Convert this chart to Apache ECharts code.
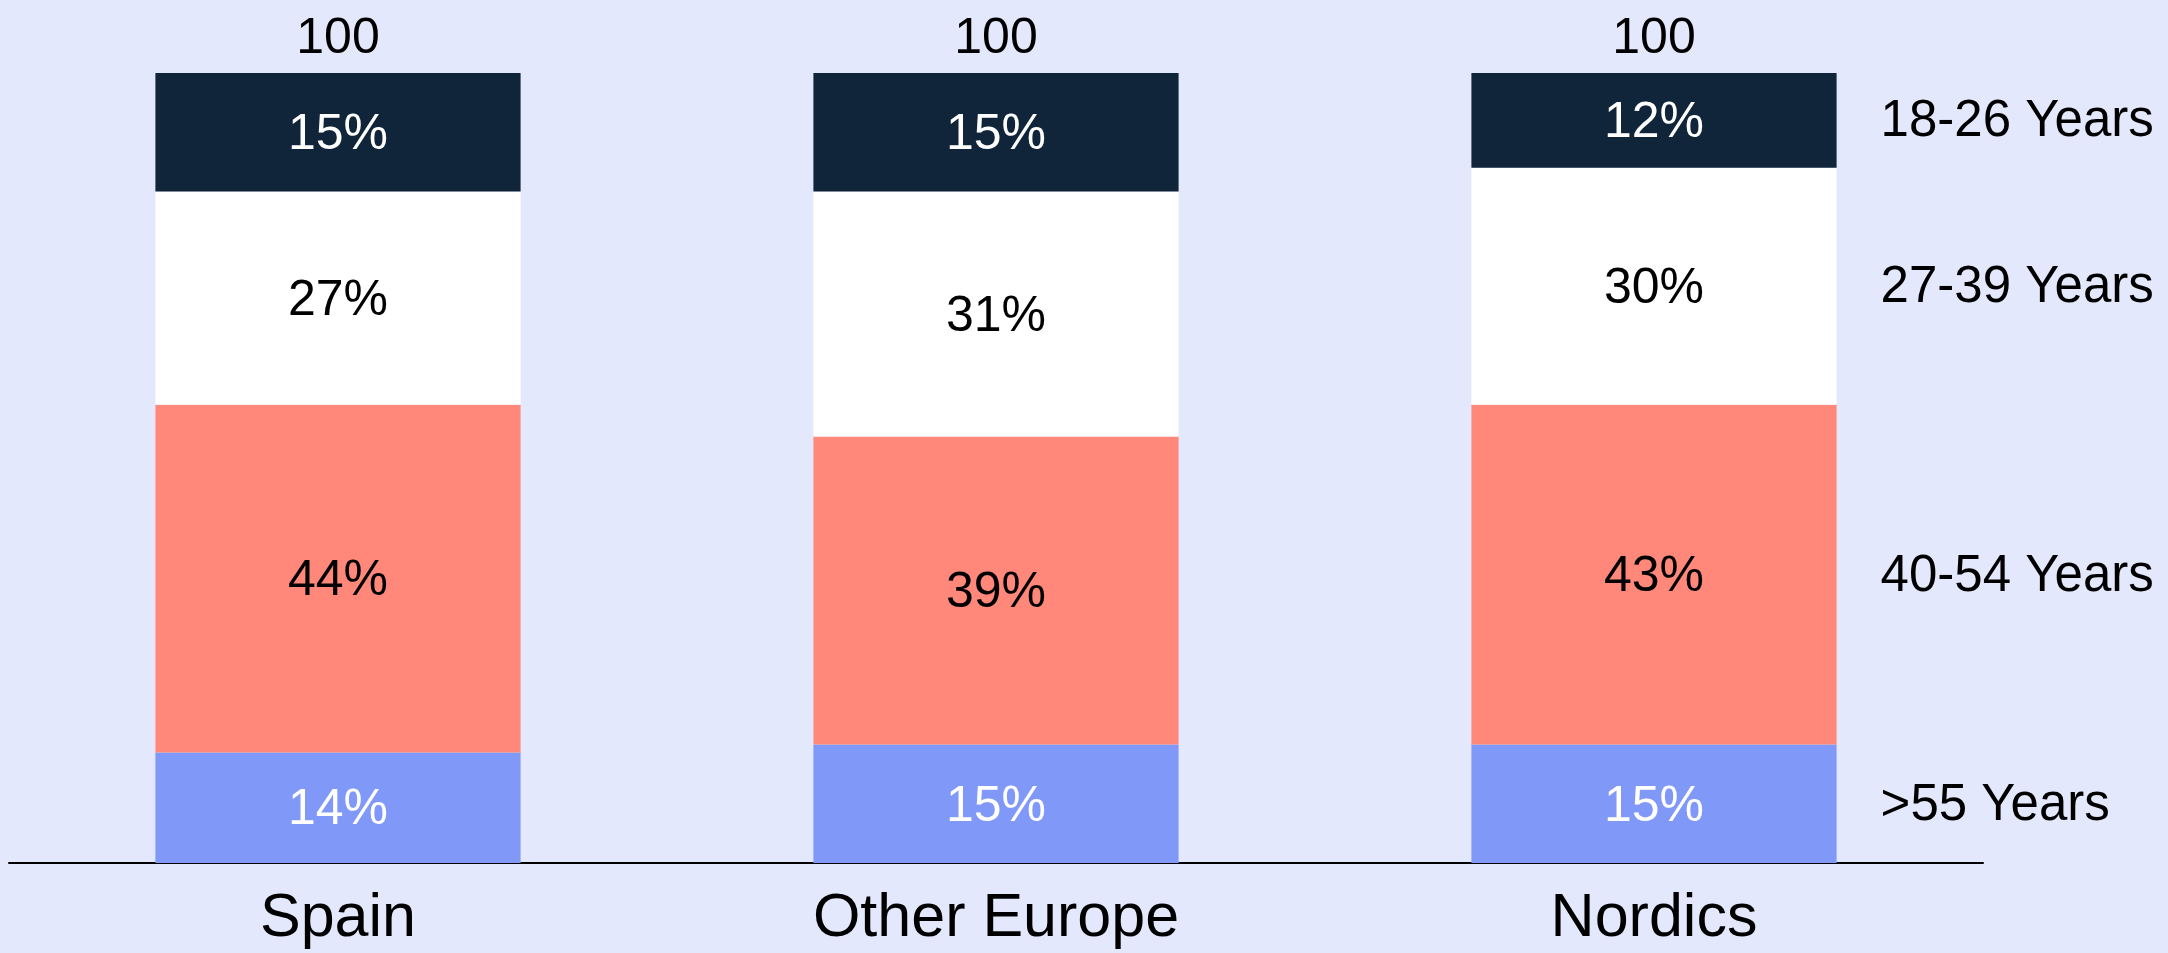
<!DOCTYPE html>
<html>
<head>
<meta charset="utf-8">
<style>
  html, body { margin: 0; padding: 0; background: #E3E8FC; }
  #chart { width: 2168px; height: 953px; }
</style>
<script src="https://cdn.jsdelivr.net/npm/echarts@6/dist/echarts.min.js"></script>
</head>
<body>
<div id="chart"></div>
<script>
// Regions on the category axis
const regions = ['Spain', 'Other Europe', 'Nordics'];

// Share of each age group per region (%), bottom segment first
const groupNames = ['>55 Years', '40-54 Years', '27-39 Years', '18-26 Years'];
const over55 = [14, 15, 15];
const age40to54 = [44, 39, 43];
const age27to39 = [27, 31, 30];
const age18to26 = [15, 15, 12];

const groupValues = [over55, age40to54, age27to39, age18to26];
const totals = regions.map((_, i) => groupValues.reduce((s, arr) => s + arr[i], 0));

const FONT = "'Liberation Sans', Arial, sans-serif";
const fills = ['#8098F7', '#FF887A', '#FFFFFF', '#10243A'];
const textColors = ['#FFFFFF', '#000000', '#000000', '#FFFFFF'];
const BAR_WIDTH = '55.5%';

const series = [];

// Stacked segments with their percentage inside
groupValues.forEach((vals, k) => {
  series.push({
    name: groupNames[k],
    type: 'bar',
    stack: 'share',
    barWidth: BAR_WIDTH,
    data: vals,
    itemStyle: { color: fills[k] },
    label: {
      show: true,
      position: 'inside',
      offset: [0, 3],
      formatter: p => p.value + '%',
      color: textColors[k],
      fontFamily: FONT,
      fontSize: 50
    },
    silent: true
  });
});

// Total above each column
series.push({
  name: 'total',
  type: 'bar',
  stack: 'share',
  barWidth: BAR_WIDTH,
  data: totals.map(() => 0),
  itemStyle: { color: 'transparent' },
  label: {
    show: true,
    position: 'top',
    distance: 9,
    formatter: p => String(totals[p.dataIndex]),
    color: '#000000',
    fontFamily: FONT,
    fontSize: 50
  },
  silent: true
});

// Age-group names beside the last column, on a twin axis so the layout is unaffected
const last = regions.length - 1;
groupValues.forEach((vals, k) => {
  series.push({
    name: groupNames[k] + ' name',
    type: 'bar',
    xAxisIndex: 1,
    stack: 'names',
    barWidth: BAR_WIDTH,
    data: vals.map((v, i) => i === last ? {
      value: v,
      label: {
        show: true,
        position: 'right',
        distance: 44,
        offset: [0, 2],
        formatter: groupNames[k],
        color: '#000000',
        fontFamily: FONT,
        fontSize: 51
      }
    } : v),
    itemStyle: { color: 'transparent' },
    label: { show: false },
    silent: true
  });
});

const chart = echarts.init(document.getElementById('chart'), null, { renderer: 'canvas' });
chart.setOption({
  backgroundColor: '#E3E8FC',
  animation: false,
  grid: { left: 9, right: 185, top: 73, bottom: 90, containLabel: false },
  xAxis: [{
    type: 'category',
    data: regions,
    axisLine: { show: true, lineStyle: { color: '#000000', width: 2 } },
    axisTick: { show: false },
    axisLabel: {
      color: '#000000',
      fontFamily: FONT,
      fontSize: 61,
      margin: 26
    }
  }, {
    type: 'category',
    data: regions,
    show: false
  }],
  yAxis: {
    type: 'value',
    min: 0,
    max: 100,
    show: false,
    splitLine: { show: false }
  },
  series: series
});
</script>
</body>
</html>
